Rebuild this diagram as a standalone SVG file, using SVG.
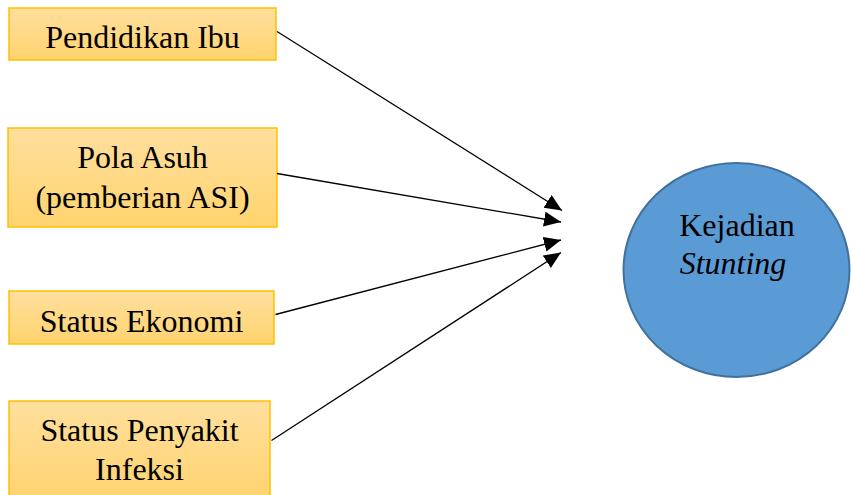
<svg xmlns="http://www.w3.org/2000/svg" width="851" height="495" viewBox="0 0 851 495">
<style>
.box{fill:url(#g);stroke:#FFC000;stroke-width:1.5}
.c{stroke:#000;stroke-width:1.3;fill:none;marker-end:url(#ah)}
</style>
<defs>
<linearGradient id="g" x1="0" y1="0" x2="0" y2="1">
<stop offset="0" stop-color="#FFDF9E"/>
<stop offset="1" stop-color="#FFD36E"/>
</linearGradient>
<marker id="ah" markerUnits="userSpaceOnUse" markerWidth="18" markerHeight="16" refX="17" refY="7.5" orient="auto">
<path d="M0,0 L17,7.5 L0,15 z" fill="#000"/>
</marker>
</defs>
<rect width="851" height="495" fill="#fff"/>
<g font-family="'Liberation Serif', serif" font-size="32" text-anchor="middle" fill="#000">
<g id="n1"><rect class="box" x="9" y="8" width="267" height="52"/><text x="142.5" y="47.5">Pendidikan Ibu</text></g>
<g id="n2"><rect class="box" x="8" y="128" width="269" height="99"/><text x="142.5" y="168">Pola Asuh</text><text x="142.5" y="208">(pemberian ASI)</text></g>
<g id="n3"><rect class="box" x="9" y="291" width="265" height="53"/><text x="141.5" y="331.5">Status Ekonomi</text></g>
<g id="n4"><rect class="box" x="9" y="401" width="261" height="100"/><text x="139.5" y="440.5">Status Penyakit</text><text x="139.5" y="480">Infeksi</text></g>
<g id="n5"><ellipse cx="736.5" cy="270" rx="113" ry="107" fill="#5B9BD5" stroke="#41719C" stroke-width="2"/><text x="737" y="236">Kejadian</text><text x="733" y="274" font-style="italic">Stunting</text></g>
</g>
<g id="connectors">
<line class="c" x1="277" y1="31.5" x2="562" y2="210.5"/>
<line class="c" x1="277" y1="173.5" x2="561" y2="222"/>
<line class="c" x1="275.5" y1="314.5" x2="561" y2="240"/>
<line class="c" x1="271.5" y1="440.5" x2="561" y2="252.5"/>
</g>
</svg>
